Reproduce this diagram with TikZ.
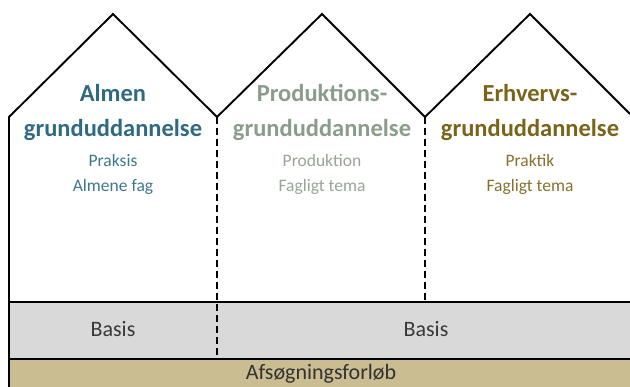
\documentclass[tikz,border=0pt]{standalone}
\usepackage{fontspec}
\setmainfont{Carlito}
\usepackage{tikz}
\usetikzlibrary{positioning}
\definecolor{almblue}{RGB}{47,106,130}
\definecolor{almsub}{RGB}{62,120,142}
\definecolor{prodgreen}{RGB}{138,156,138}
\definecolor{prodsub}{RGB}{150,165,150}
\definecolor{erhvbrown}{RGB}{122,100,26}
\definecolor{erhvsub}{RGB}{135,112,45}
\definecolor{basisgray}{RGB}{217,217,217}
\definecolor{afstan}{RGB}{201,189,145}
\definecolor{txtgray}{RGB}{56,56,56}

\begin{document}
\begin{tikzpicture}[x=1pt, y=-1pt,
    wall/.style={line width=1.9pt, line join=miter},
    divider/.style={line width=1.9pt, dash pattern=on 7pt off 4pt},
    title/.style={font=\bfseries\fontsize{24.5}{35}\selectfont, align=center, anchor=base},
    sub/.style={font=\fontsize{17.5}{24}\selectfont, align=center, anchor=base},
    band/.style={font=\fontsize{22}{26}\selectfont, text=txtgray, anchor=base}]
  \useasboundingbox (0,0) rectangle (630,387);
  % bands
  \fill[basisgray] (9,302) rectangle (630,359);
  \fill[afstan] (9,359) rectangle (630,387);
  % roof line and outer wall
  \coordinate (wl) at (9,387);
  \coordinate (c1) at (9,117);
  \coordinate (p1) at (113,14);
  \coordinate (v1) at (217,117);
  \coordinate (p2) at (322,14);
  \coordinate (v2) at (425,117);
  \coordinate (p3) at (530,14);
  \coordinate (re) at (630,114);
  \draw[wall] (wl) -- (c1) -- (p1) -- (v1) -- (p2) -- (v2) -- (p3) -- (re);
  \draw[wall] (9,302) -- (630,302);
  \draw[wall] (9,359) -- (630,359);
  \draw[divider] (v1) -- (217,358);
  \draw[divider] (v2) -- (425,302);
  % houses
  \node[title, text=almblue] (alm) at (113,102) {Almen};
  \node[title, text=almblue] (almg) at (113,137) {grunduddannelse};
  \node[sub, text=almsub] (alm1) at (113,167) {Praksis};
  \node[sub, text=almsub] (alm2) at (113,192) {Almene fag};
  \node[title, text=prodgreen] (prod) at (322,102) {Produktions-};
  \node[title, text=prodgreen] (prodg) at (322,137) {grunduddannelse};
  \node[sub, text=prodsub] (prod1) at (322,167) {Produktion};
  \node[sub, text=prodsub] (prod2) at (322,192) {Fagligt tema};
  \node[title, text=erhvbrown] (erhv) at (530,102) {Erhvervs-};
  \node[title, text=erhvbrown] (erhvg) at (530,137) {grunduddannelse};
  \node[sub, text=erhvsub] (erhv1) at (530,167) {Praktik};
  \node[sub, text=erhvsub] (erhv2) at (530,192) {Fagligt tema};
  % bottom
  \node[band] (basis1) at (113,337) {Basis};
  \node[band] (basis2) at (426,337) {Basis};
  \node[band, text=black!80] (afs) at (321,380) {Afsøgningsforløb};
\end{tikzpicture}
\end{document}
